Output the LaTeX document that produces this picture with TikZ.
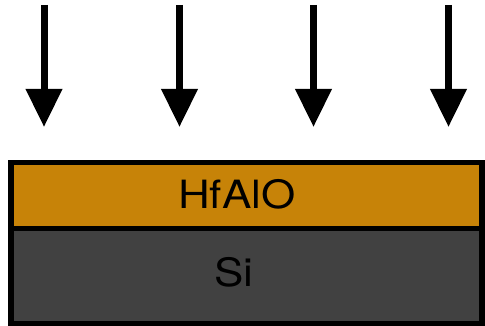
\documentclass[tikz,border=0pt]{standalone}
\usepackage{fontspec}
\setmainfont[FakeStretch=1.13]{TeX Gyre Heros}
\usetikzlibrary{arrows.meta,positioning}
\definecolor{oxide}{RGB}{199,131,8}
\definecolor{substrate}{RGB}{65,65,65}

\begin{document}
\begin{tikzpicture}[>={Triangle[length=0.95cm,width=0.875cm]},
  layer/.style={draw=black,line width=0.14cm,outer sep=0pt,inner sep=0pt,minimum width=11.775cm},
  layertext/.style={font=\fontsize{27.7}{30}\selectfont,text=black},
  beam/.style={->,line width=0.175cm}]
  \useasboundingbox (0,0) rectangle (12.125,8.15);
  % film stack
  \node[layer,fill=oxide,minimum height=1.65cm,
    label={[layertext,xshift=-0.245cm,yshift=0.04cm]center:HfAlO}] (hfalo) at (6.1625,3.2625) {};
  \node[layer,fill=substrate,minimum height=2.375cm,below=0cm of hfalo,
    label={[layertext,xshift=-0.31cm,yshift=0.09cm]center:Si}] (si) {};
  % incoming beams
  \foreach \x [count=\i] in {1.1,4.4875,7.8375,11.2125} {
    \coordinate (top\i) at (\x,8.025);
    \coordinate (tip\i) at (\x,4.975);
    \draw[beam] (top\i) -- (tip\i);
  }
\end{tikzpicture}
\end{document}
